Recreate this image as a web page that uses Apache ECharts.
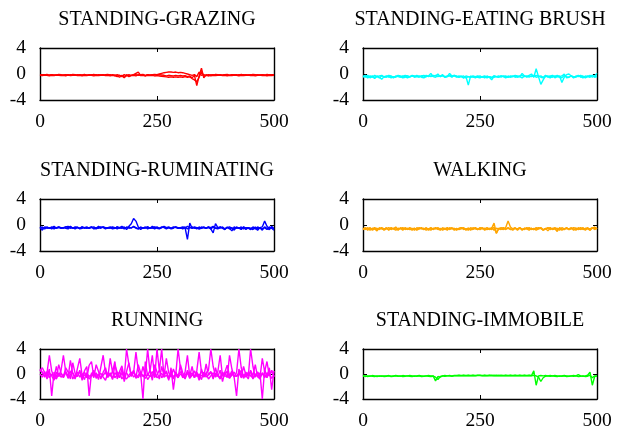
<!DOCTYPE html>
<html><head><meta charset="utf-8">
<script src="https://cdn.jsdelivr.net/npm/echarts@6/dist/echarts.min.js"></script>
<style>html,body{margin:0;padding:0;background:#fff}#c{width:626px;height:431px}</style>
</head><body><div id="c"></div>
<script>
const titles = ['STANDING-GRAZING','STANDING-EATING BRUSH','STANDING-RUMINATING','WALKING','RUNNING','STANDING-IMMOBILE'];
const colors = ['#ff0000','#00ffff','#0000ff','#ffa500','#ff00ff','#00ff00'];
const xTicks = [0,250,500];
const yTicks = [-4,0,4];
const sampleStep = 5; // samples are read every 5 steps along x

const grazing = [
[-0.1,-0.2,-0.1,-0.2,-0.15,-0.1,-0.2,-0.15,-0.1,-0.2,
 -0.15,-0.1,-0.2,-0.1,-0.15,-0.2,-0.1,-0.15,-0.2,-0.1,
 -0.15,-0.2,-0.1,-0.15,-0.1,-0.2,-0.15,-0.1,-0.2,-0.15,
 -0.1,-0.2,-0.15,-0.3,-0.5,-0.2,-0.6,-0.1,-0.4,-0.2,
 -0.1,0.1,0.3,-0.2,-0.1,-0.3,-0.1,-0.2,-0.15,-0.1,
 -0.2,-0.1,-0.15,-0.2,-0.3,-0.2,-0.25,-0.3,-0.2,-0.3,
 -0.2,-0.3,-0.25,-0.4,-0.3,-0.6,-0.2,-1.8,-0.3,0.9,
 -0.6,-0.1,-0.3,-0.15,-0.1,-0.2,-0.15,-0.1,-0.2,-0.1,
 -0.15,-0.2,-0.1,-0.15,-0.2,-0.1,-0.15,-0.1,-0.2,-0.15,
 -0.1,-0.2,-0.15,-0.1,-0.2,-0.1,-0.15,-0.2,-0.1,-0.15,-0.1],
[-0.2,-0.1,-0.15,-0.05,-0.2,-0.1,-0.15,-0.2,-0.05,-0.1,
 -0.2,-0.15,-0.1,-0.2,-0.05,-0.1,-0.2,-0.1,-0.15,-0.05,
 -0.2,-0.1,-0.15,-0.05,-0.2,-0.1,-0.15,-0.2,-0.1,-0.05,
 -0.2,-0.1,-0.3,-0.1,-0.2,-0.4,-0.1,-0.3,-0.1,-0.2,
 -0.15,-0.1,-0.2,-0.1,-0.05,-0.2,-0.1,-0.15,-0.1,-0.05,
 -0.1,0.0,0.1,0.2,0.25,0.3,0.3,0.25,0.3,0.2,
 0.25,0.2,0.1,0.0,-0.1,-0.2,-0.1,-0.4,0.3,-0.2,
 -0.1,-0.2,-0.1,-0.15,-0.2,-0.05,-0.1,-0.2,-0.15,-0.1,
 -0.05,-0.2,-0.1,-0.15,-0.1,-0.2,-0.05,-0.15,-0.1,-0.2,
 -0.15,-0.05,-0.1,-0.2,-0.15,-0.1,-0.2,-0.05,-0.15,-0.1,-0.2],
[-0.2,-0.25,-0.15,-0.2,-0.3,-0.2,-0.25,-0.15,-0.2,-0.25,
 -0.2,-0.3,-0.15,-0.25,-0.2,-0.15,-0.25,-0.2,-0.3,-0.2,
 -0.25,-0.15,-0.2,-0.3,-0.2,-0.25,-0.2,-0.15,-0.25,-0.2,
 -0.3,-0.2,-0.25,-0.4,-0.2,-0.3,-0.5,-0.2,-0.3,-0.25,
 -0.2,-0.3,-0.1,-0.25,-0.2,-0.3,-0.2,-0.25,-0.2,-0.3,
 -0.25,-0.3,-0.35,-0.4,-0.45,-0.5,-0.45,-0.5,-0.45,-0.5,
 -0.45,-0.5,-0.4,-0.5,-0.45,-0.7,-0.9,-1.2,-0.5,0.4,
 -0.3,-0.25,-0.2,-0.3,-0.2,-0.25,-0.2,-0.15,-0.25,-0.2,
 -0.3,-0.2,-0.25,-0.15,-0.2,-0.3,-0.2,-0.25,-0.2,-0.15,
 -0.25,-0.2,-0.3,-0.2,-0.15,-0.25,-0.2,-0.3,-0.2,-0.25,-0.2]
];

const eatingBrush = [
[-0.3,-0.5,-0.2,-0.6,-0.4,-0.7,-0.3,-0.5,-0.8,-0.4,
 -0.3,-0.5,-0.4,-0.6,-0.3,-0.4,-0.5,-0.3,-0.4,-0.6,
 -0.4,-0.3,-0.5,-0.4,-0.3,-0.5,-0.6,-0.4,-0.3,0.1,
 -0.4,-0.5,-0.3,-0.4,-0.1,-0.5,-0.4,0.1,-0.3,-0.2,
 -0.4,-0.5,-0.3,-0.6,-0.4,-1.7,-0.3,-0.5,-0.4,-0.3,
 -0.5,-0.4,-0.6,-0.3,-0.5,-0.9,-0.3,-0.4,-0.5,-0.3,
 -0.4,-0.6,-0.3,-0.5,-0.4,-0.3,-0.5,-0.4,-0.6,-0.3,
 -0.4,-0.2,0.0,-0.5,0.8,-0.4,-1.6,-0.9,-0.3,-0.5,
 -0.3,-0.2,-0.6,-0.4,-0.3,-1.3,-0.5,-0.1,0.0,-0.3,
 -0.5,-0.4,-0.2,-0.5,-0.3,-0.6,-0.4,-0.2,-0.5,-0.3,0.1],
[-0.5,-0.3,-0.6,-0.4,-0.3,-0.5,-0.4,-0.6,-0.3,-0.4,
 -0.5,-0.3,-0.6,-0.4,-0.5,-0.3,-0.4,-0.6,-0.5,-0.3,
 -0.4,-0.2,-0.3,-0.4,-0.5,-0.3,-0.2,-0.4,-0.3,-0.4,
 -0.2,-0.3,0.0,-0.4,-0.3,-0.5,-0.4,-0.3,-0.5,-0.2,
 -0.3,-0.5,-0.4,-0.3,-0.6,-0.4,-0.5,-0.3,-0.4,-0.5,
 -0.6,-0.4,-0.3,-0.5,-0.4,-0.6,-0.5,-0.4,-0.3,-0.5,
 -0.3,-0.4,-0.5,-0.3,-0.4,-0.2,-0.3,-0.4,0.1,-0.3,
 -0.5,-0.3,-0.4,-0.2,-0.5,-0.4,-0.3,-0.5,-0.2,-0.4,
 -0.6,-0.3,-0.4,-0.2,-0.4,-0.3,0.0,-0.6,-0.5,-0.3,
 -0.4,-0.5,-0.3,-0.4,-0.6,-0.3,-0.4,-0.5,-0.2,-0.4,-0.3],
[-0.4,-0.2,-0.4,-0.3,-0.5,-0.2,-0.4,-0.3,-0.2,-0.5,
 -0.4,-0.2,-0.3,-0.5,-0.4,-0.2,-0.3,-0.4,-0.2,-0.3,
 -0.5,-0.3,-0.4,-0.2,-0.4,-0.3,-0.5,-0.2,-0.4,-0.3,
 -0.3,-0.2,-0.4,-0.3,-0.2,-0.4,-0.3,-0.2,-0.4,-0.3,
 -0.5,-0.3,-0.4,-0.6,-0.3,-0.4,-0.5,-0.4,-0.6,-0.4,
 -0.3,-0.5,-0.4,-0.6,-0.4,-0.5,-0.3,-0.4,-0.5,-0.3,
 -0.4,-0.3,-0.5,-0.4,-0.3,-0.5,-0.4,-0.3,-0.2,-0.4,
 -0.3,-0.5,-0.3,-0.4,-0.2,-0.3,-0.5,-0.6,-0.4,-0.3,
 -0.4,-0.5,-0.3,-0.4,-0.5,-0.6,-0.2,-0.4,-0.5,-0.3,
 -0.6,-0.3,-0.4,-0.2,-0.4,-0.5,-0.3,-0.4,-0.2,-0.5,-0.4]
];

const ruminating = [
[-0.4,-0.8,-0.3,-0.5,-0.4,-0.6,-0.3,-0.5,-0.4,-0.5,
 -0.4,-0.3,-0.2,-0.5,-0.4,-0.6,-0.4,-0.5,-0.3,-0.5,
 -0.4,-0.5,-0.3,-0.6,-0.4,-0.5,-0.3,-0.4,-0.6,-0.4,
 -0.5,-0.3,-0.4,-0.6,-0.4,-0.5,-0.3,-0.7,-0.2,0.2,
 1.0,0.6,-0.3,-0.7,-0.4,-0.5,-0.3,-0.5,-0.4,-0.6,
 -0.4,-0.5,-0.3,-0.4,-0.6,-0.4,-0.5,-0.3,-0.4,-0.5,
 -0.4,-0.6,-0.4,-2.2,0.3,-0.5,-0.4,-0.6,-0.3,-0.5,
 -0.4,-0.5,-0.3,-0.6,-1.2,0.2,-0.4,-0.5,-0.3,-0.6,
 -0.4,-0.5,-0.9,-0.3,-0.5,-0.4,-0.7,-0.3,-0.5,-0.4,
 -0.6,-0.3,-0.5,-0.8,-0.4,-0.3,0.6,-0.2,-0.6,-0.4,-0.5],
[-0.5,-0.3,-0.6,-0.4,-0.5,-0.3,-0.6,-0.4,-0.3,-0.5,
 -0.4,-0.5,-0.6,-0.3,-0.5,-0.4,-0.3,-0.6,-0.5,-0.4,
 -0.5,-0.4,-0.3,-0.5,-0.6,-0.4,-0.5,-0.3,-0.4,-0.5,
 -0.4,-0.6,-0.5,-0.3,-0.5,-0.4,-0.6,-0.3,-0.5,-0.4,
 -0.3,-0.5,-0.6,-0.4,-0.5,-0.3,-0.6,-0.4,-0.5,-0.3,
 -0.5,-0.6,-0.4,-0.3,-0.5,-0.4,-0.6,-0.5,-0.3,-0.4,
 -0.5,-0.4,-0.3,-0.6,-0.4,-0.5,-0.3,-0.4,-0.6,-0.5,
 -0.3,-0.5,-0.4,-0.6,-0.3,-0.5,-0.4,-0.3,-0.5,-0.6,
 -0.4,-0.3,-0.5,-0.6,-0.4,-0.5,-0.3,-0.6,-0.4,-0.5,
 -0.7,-0.4,-0.6,-0.3,-0.5,-0.6,-0.4,-0.7,-0.3,-0.5,-0.8],
[-0.3,-0.5,-0.4,-0.3,-0.5,-0.4,-0.2,-0.5,-0.3,-0.4,
 -0.5,-0.3,-0.4,-0.2,-0.5,-0.3,-0.4,-0.5,-0.3,-0.4,
 -0.3,-0.5,-0.4,-0.3,-0.5,-0.2,-0.4,-0.3,-0.5,-0.4,
 -0.3,-0.4,-0.5,-0.3,-0.4,-0.2,-0.5,-0.4,-0.3,-0.5,
 -0.2,-0.4,-0.6,-0.3,-0.5,-0.4,-0.3,-0.5,-0.2,-0.4,
 -0.3,-0.5,-0.4,-0.2,-0.4,-0.3,-0.5,-0.4,-0.3,-0.5,
 -0.4,-0.3,-0.5,-0.2,-0.4,-0.3,-0.5,-0.4,-0.6,-0.3,
 -0.4,-0.5,-0.3,-0.4,-0.2,-0.5,-0.6,-0.3,-0.5,-0.7,
 -0.3,-0.6,-0.4,-0.8,-0.3,-0.5,-0.6,-0.3,-0.7,-0.4,
 -0.5,-0.7,-0.3,-0.6,-0.4,-0.8,-0.3,-0.5,-0.7,-0.2,-0.6]
];

const walking = [
[-0.5,-0.7,-0.4,-0.8,-0.5,-0.6,-0.9,-0.4,-0.6,-0.7,
 -0.4,-0.8,-0.5,-0.6,-0.3,-0.7,-0.5,-0.8,-0.4,-0.6,
 -0.7,-0.5,-0.8,-0.4,-0.6,-0.5,-0.7,-0.4,-0.8,-0.5,
 -0.6,-0.4,-0.7,-0.5,-0.8,-0.6,-0.4,-0.7,-0.5,-0.6,
 -0.8,-0.5,-0.4,-0.7,-0.6,-0.5,-0.8,-0.4,-0.6,-0.7,
 -0.5,-0.4,-0.8,-0.6,-0.5,-0.7,-0.3,-1.3,-0.5,-0.6,
 -0.7,-0.4,0.6,-0.3,-0.6,-0.5,-0.7,-0.4,-0.8,-0.5,
 -0.6,-0.4,-0.7,-0.5,-0.8,-0.6,-0.4,-0.7,-0.5,-0.9,
 -0.5,-0.6,-0.4,-0.7,-0.5,-0.8,-0.6,-0.4,-0.7,-0.5,
 -0.6,-0.8,-0.4,-0.7,-0.5,-0.6,-0.4,-0.8,-0.5,-0.3,-0.6],
[-0.7,-0.5,-0.6,-0.4,-0.8,-0.6,-0.5,-0.7,-0.4,-0.6,
 -0.5,-0.7,-0.4,-0.6,-0.8,-0.5,-0.6,-0.4,-0.7,-0.5,
 -0.6,-0.8,-0.5,-0.7,-0.4,-0.6,-0.5,-0.8,-0.6,-0.4,
 -0.7,-0.5,-0.6,-0.8,-0.4,-0.7,-0.5,-0.6,-0.4,-0.8,
 -0.5,-0.7,-0.6,-0.4,-0.8,-0.5,-0.6,-0.7,-0.4,-0.6,
 -0.7,-0.5,-0.6,-0.4,-0.7,-0.5,0.3,-1.2,-0.6,-0.4,
 -0.5,-0.7,-0.4,-0.6,-0.8,-0.5,-0.6,-0.4,-0.7,-0.5,
 -0.6,-0.8,-0.5,-0.7,-0.4,-0.6,-0.5,-0.8,-0.6,-0.4,
 -0.7,-0.5,-0.6,-1.0,-0.4,-0.6,-0.7,-0.5,-0.6,-0.4,
 -0.8,-0.5,-0.6,-0.4,-0.7,-0.5,-0.6,-0.8,-0.4,-0.6,-0.5],
[-0.6,-0.4,-0.8,-0.5,-0.6,-0.4,-0.7,-0.6,-0.5,-0.8,
 -0.6,-0.4,-0.7,-0.5,-0.6,-0.8,-0.4,-0.6,-0.5,-0.7,
 -0.4,-0.6,-0.5,-0.8,-0.6,-0.4,-0.7,-0.5,-0.6,-0.8,
 -0.5,-0.6,-0.4,-0.7,-0.6,-0.5,-0.8,-0.4,-0.6,-0.5,
 -0.7,-0.6,-0.4,-0.5,-0.6,-0.8,-0.4,-0.6,-0.5,-0.7,
 -0.4,-0.6,-0.5,-0.7,-0.6,-0.4,-0.8,-0.5,-0.6,-0.7,
 -0.4,-0.6,-0.5,-0.7,-0.6,-0.4,-0.8,-0.5,-0.6,-0.7,
 -0.4,-0.6,-0.5,-0.7,-0.6,-0.4,-0.5,-0.8,-0.6,-0.5,
 -0.4,-0.7,-0.6,-0.5,-0.8,-0.4,-0.6,-0.5,-0.7,-0.6,
 -0.4,-0.5,-0.7,-0.6,-0.4,-0.8,-0.5,-0.6,-0.4,-0.7,-0.5]
];

const running = [
[0.8,0.3,-0.5,0.2,3.0,0.5,-0.6,1.2,-0.3,0.6,
 3.0,0.4,-0.5,2.2,0.1,-0.8,0.9,2.5,-0.2,0.3,
 -0.6,1.4,2.0,-0.4,0.2,-0.9,1.1,3.0,0.2,-0.5,
 2.5,0.3,2.0,-0.8,0.4,1.3,-0.6,4.0,1.5,-0.3,
 0.2,3.5,0.6,-0.5,1.2,-0.3,4.0,0.4,3.0,-0.6,
 4.0,0.5,4.0,-0.4,2.5,0.2,-0.5,0.8,-0.2,4.0,
 1.0,-0.5,0.3,3.0,-0.4,0.2,-0.6,0.5,3.5,0.4,
 -0.5,0.2,0.6,4.0,1.2,-0.3,0.4,3.0,-0.4,0.3,
 -0.6,3.0,0.8,-0.4,0.2,4.0,1.0,-0.5,0.3,-0.4,
 4.0,1.2,-0.5,0.3,-0.6,2.5,0.4,2.0,-0.3,0.6,-0.5],
[0.5,1.0,0.2,-0.4,0.8,-3.5,0.3,-0.6,1.5,0.2,
 -0.5,1.0,0.3,-0.8,1.8,0.1,-0.4,0.6,-1.0,0.5,
 1.2,-3.5,0.2,-0.6,1.5,0.4,-0.8,0.3,1.0,-0.5,
 0.2,-0.9,1.4,0.3,-0.6,0.8,-1.2,0.4,1.8,-0.4,
 0.6,-0.5,1.5,0.2,-4.0,2.0,-0.3,0.6,-1.0,1.5,
 0.3,-0.8,1.2,-0.2,0.5,-1.0,1.0,-2.5,0.3,-0.6,
 1.5,0.2,-0.8,0.6,-0.3,1.2,-0.6,0.2,-1.0,0.8,
 -0.4,1.6,-0.2,0.3,-0.8,1.0,-0.4,0.6,-1.2,0.3,
 1.4,-0.3,0.5,-0.6,-3.5,0.8,-0.4,1.2,-0.2,-0.8,
 0.6,-0.3,1.5,-0.5,0.2,-4.0,0.8,-0.6,1.0,-2.5,0.5],
[0.0,-0.5,0.4,-0.8,0.2,-0.3,-1.0,0.3,-0.4,0.1,
 -0.6,0.2,-0.3,0.5,-0.8,-0.2,0.3,-0.5,0.0,-0.9,
 0.2,-0.4,-0.1,0.6,-0.7,-0.2,0.1,-0.5,-1.0,0.2,
 -0.3,0.4,-0.6,-0.1,0.3,-0.8,-0.2,0.2,-0.5,-0.1,
 0.5,-0.7,-0.2,0.3,-0.4,0.1,-0.9,-0.3,0.4,-0.5,
 -0.1,0.6,-0.6,-0.2,0.3,-0.5,0.0,-0.8,0.2,-0.3,
 0.4,-0.6,-0.1,0.2,-0.7,-0.2,0.5,-0.4,0.0,-0.9,
 0.3,-0.5,-0.1,0.4,-0.6,0.1,-0.3,-0.8,0.2,-0.2,
 0.5,-0.6,-0.2,0.3,-0.4,-0.1,0.6,-0.7,0.0,-0.3,
 0.4,-0.8,-0.2,0.3,-0.5,0.1,-0.6,0.2,-0.3,0.5,-0.4],
[0.6,0.2,-0.3,0.4,-0.6,0.0,-0.4,-0.8,0.1,-0.5,
 -0.2,0.3,-0.7,-0.1,0.2,-0.5,-0.3,0.4,-0.6,-0.2,
 0.1,-0.8,-0.3,0.2,-0.4,0.0,-0.6,-0.2,0.3,-0.5,
 -0.1,-0.7,0.2,-0.3,-0.5,0.1,-0.4,-0.8,-0.2,0.3,
 -0.5,-0.1,-0.6,0.2,-0.3,-0.7,0.0,-0.4,-0.2,0.3,
 -0.6,-0.3,0.1,-0.5,-0.2,-0.8,0.2,-0.4,-0.1,-0.6,
 0.0,-0.3,-0.7,0.2,-0.5,-0.1,-0.4,0.3,-0.6,-0.2,
 -0.4,0.1,-0.8,-0.3,0.2,-0.5,-0.1,-0.6,0.3,-0.4,
 -0.2,-0.7,0.1,-0.4,-0.3,0.2,-0.6,-0.1,-0.5,0.3,
 -0.3,-0.6,0.0,-0.4,-0.8,0.2,-0.3,-0.5,0.1,-0.7,-0.2]
];

const immobile = [
[-0.2,-0.4,-0.3,-0.35,-0.25,-0.3,-0.4,-0.3,-0.35,-0.3,
 -0.3,-0.25,-0.35,-0.3,-0.25,-0.3,-0.35,-0.25,-0.3,-0.3,
 -0.25,-0.3,-0.35,-0.3,-0.25,-0.3,-0.35,-0.3,-0.25,-0.3,
 -0.3,-1.1,-0.4,-0.5,-0.3,-0.25,-0.3,-0.25,-0.3,-0.25,
 -0.25,-0.2,-0.25,-0.2,-0.25,-0.2,-0.25,-0.2,-0.25,-0.2,
 -0.2,-0.25,-0.2,-0.25,-0.2,-0.2,-0.25,-0.2,-0.25,-0.2,
 -0.25,-0.2,-0.25,-0.2,-0.25,-0.2,-0.25,-0.2,-0.25,-0.2,
 -0.25,-0.2,-0.25,0.5,-1.8,-0.3,-0.25,-0.3,-0.25,-0.3,
 -0.25,-0.3,-0.25,-0.3,-0.35,-0.3,-0.25,-0.3,-0.35,-0.3,
 -0.25,-0.3,-0.1,-0.3,-0.35,-0.3,-0.2,0.3,-1.8,-0.4,-0.3],
[-0.35,-0.3,-0.4,-0.3,-0.35,-0.4,-0.3,-0.35,-0.3,-0.4,
 -0.35,-0.3,-0.4,-0.35,-0.3,-0.35,-0.3,-0.4,-0.35,-0.3,
 -0.35,-0.4,-0.3,-0.35,-0.3,-0.4,-0.35,-0.3,-0.35,-0.4,
 -0.35,-0.5,-0.9,-0.4,-0.3,-0.35,-0.3,-0.3,-0.35,-0.3,
 -0.3,-0.25,-0.3,-0.25,-0.3,-0.25,-0.3,-0.25,-0.3,-0.25,
 -0.25,-0.3,-0.25,-0.3,-0.25,-0.3,-0.25,-0.3,-0.25,-0.3,
 -0.3,-0.25,-0.3,-0.25,-0.3,-0.25,-0.3,-0.25,-0.3,-0.25,
 -0.3,-0.25,-0.3,-0.2,-0.3,-0.5,-1.2,-0.6,-0.35,-0.3,
 -0.35,-0.3,-0.35,-0.4,-0.3,-0.35,-0.3,-0.4,-0.35,-0.3,
 -0.35,-0.3,-0.4,-0.35,-0.3,-0.4,-0.35,-0.2,-0.6,-0.3,-0.35]
];

const panels = [grazing, eatingBrush, ruminating, walking, running, immobile];
const boxes = [[40,48],[363,48],[40,199],[363,199],[40,349],[363,349]];
const W = 234, H = 52;
const FONT = 'Liberation Serif, Times New Roman, serif';

const grid = [], xAxis = [], yAxis = [], series = [], title = [];
panels.forEach((traces, i) => {
  const [l, t] = boxes[i];
  grid.push({left: l, top: t, width: W, height: H, containLabel: false});
  title.push({text: titles[i], left: l + W/2, top: t - 38, textAlign: 'center', padding: 0,
    textStyle: {fontSize: 20, fontFamily: FONT, fontWeight: 'normal', color: '#000'}});
  const axLine = {show: true, onZero: false, lineStyle: {color: '#000', width: 1.4}};
  const tick = {show: true, inside: true, length: 4, lineStyle: {color: '#000', width: 1}};
  const lab = {fontSize: 19.5, fontFamily: FONT, color: '#000'};
  xAxis.push({gridIndex: i, type: 'value', min: 0, max: 500, interval: 250, position: 'bottom',
    axisLine: axLine, axisTick: {...tick, customValues: xTicks},
    axisLabel: {...lab, margin: 12, customValues: xTicks}, splitLine: {show: false}});
  xAxis.push({gridIndex: i, type: 'value', min: 0, max: 500, interval: 250, position: 'top',
    axisLine: axLine, axisTick: {...tick, customValues: xTicks}, axisLabel: {show: false}, splitLine: {show: false}});
  yAxis.push({gridIndex: i, type: 'value', min: -4, max: 4, interval: 4, position: 'left',
    axisLine: axLine, axisTick: {...tick, customValues: yTicks},
    axisLabel: {...lab, margin: 14, customValues: yTicks}, splitLine: {show: false}});
  yAxis.push({gridIndex: i, type: 'value', min: -4, max: 4, interval: 4, position: 'right',
    axisLine: axLine, axisTick: {...tick, customValues: yTicks}, axisLabel: {show: false}, splitLine: {show: false}});
  traces.forEach(tr => {
    series.push({type: 'line', xAxisIndex: 2*i, yAxisIndex: 2*i, symbol: 'none', silent: true,
      lineStyle: {width: 1.4, color: colors[i]}, itemStyle: {color: colors[i]},
      data: tr.map((v, k) => [k * sampleStep, v])});
  });
});

const chart = echarts.init(document.getElementById('c'), null, {renderer: 'canvas'});
chart.setOption({animation: false, backgroundColor: '#fff', title, grid, xAxis, yAxis, series});
</script>
</body></html>
